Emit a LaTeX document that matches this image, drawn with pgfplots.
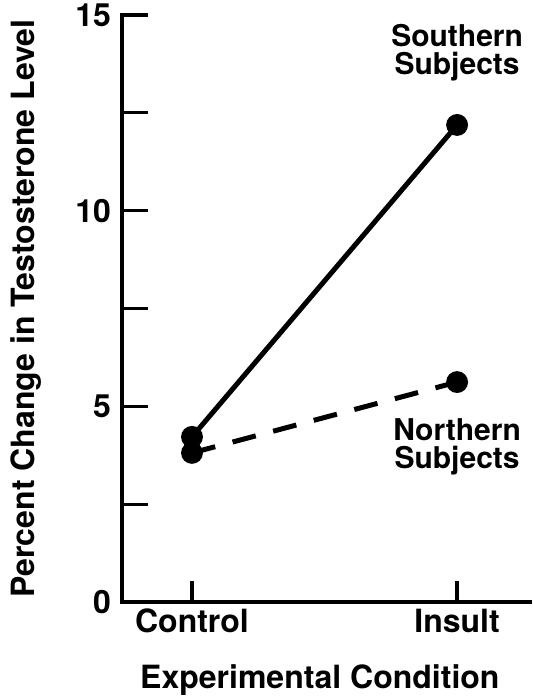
\documentclass[border=0pt]{standalone}
\usepackage{fontspec}
\setmainfont{TeX Gyre Heros}
\usepackage{pgfplots}
\pgfplotsset{compat=1.18}
\begin{document}
\begin{tikzpicture}
\begin{axis}[
    name=ax,
    scale only axis,
    width=204pt, height=293.5pt,
    xmin=-0.264, xmax=1.275,
    ymin=0, ymax=15,
    axis x line*=bottom, axis y line*=left,
    axis line style={line width=2pt, line cap=rect},
    every tick/.style={black, line width=1.6pt},
    tick align=inside,
    major tick length=13pt,
    minor tick length=10.5pt,
    xtick={0,1}, xticklabels={Control,Insult},
    major x tick style={draw=none},
    minor xtick={0,1},
    ytick={0,2.5,5,7.5,10,12.5,15},
    yticklabels={0,,5,,10,,15},
    yticklabel style={xshift=-2pt},
    font=\fontsize{16}{19}\selectfont\bfseries,
    xlabel={Experimental Condition},
    ylabel={Percent Change in Testosterone Level},
    xlabel style={at={(axis description cs:0.485,-0.148)}, anchor=base},
    ylabel style={at={(axis description cs:-0.235,0.5)}, anchor=center},
    clip=false,
]
    % Southern subjects
    \addplot[black, line width=2.5pt, mark=*, mark size=4.2pt] coordinates {
        (0,4.22)
        (1,12.19)
    };
    % Northern subjects
    \addplot[black, line width=2.5pt, dash pattern=on 12pt off 9pt,
        mark=*, mark size=4.2pt, mark options={solid}] coordinates {
        (0,3.81)
        (1,5.62)
    };
    \node[align=center, font=\fontsize{15}{14}\selectfont\bfseries] at (axis cs:1,14.05) {Southern\\Subjects};
    \node[align=center, font=\fontsize{15}{14}\selectfont\bfseries] at (axis cs:1,3.96) {Northern\\Subjects};
\end{axis}
\pgfresetboundingbox
\path ([shift={(-61pt,-47pt)}]ax.south west) rectangle ([shift={(205.5pt,301pt)}]ax.south west);
\end{tikzpicture}
\end{document}
